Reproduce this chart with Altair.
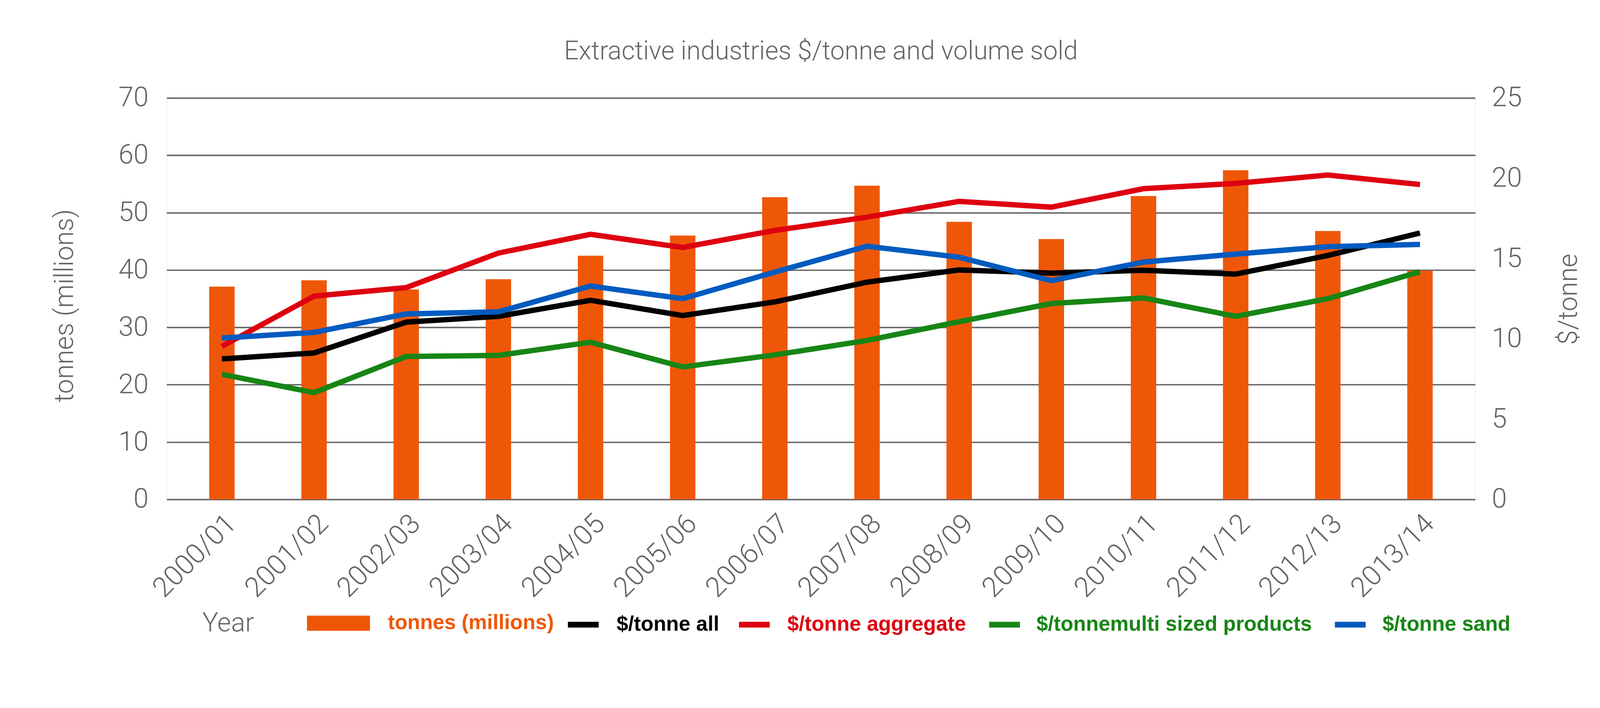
import altair as alt
import pandas as pd

years = ["2000/01", "2001/02", "2002/03", "2003/04", "2004/05", "2005/06", "2006/07",
         "2007/08", "2008/09", "2009/10", "2010/11", "2011/12", "2012/13", "2013/14"]
tonnes = [37.1, 38.2, 36.6, 38.4, 42.5, 46.0, 52.7, 54.7, 48.4, 45.4, 52.9, 57.4, 46.8, 39.9]
per_all = [8.75, 9.12, 11.04, 11.40, 12.40, 11.45, 12.30, 13.53, 14.29, 14.09, 14.27, 14.03, 15.19, 16.59]
per_aggregate = [9.53, 12.66, 13.19, 15.34, 16.51, 15.69, 16.75, 17.58, 18.56, 18.20, 19.35, 19.68, 20.20, 19.61]
per_multi = [7.79, 6.65, 8.90, 8.97, 9.79, 8.25, 9.00, 9.90, 11.07, 12.20, 12.55, 11.40, 12.50, 14.18]
per_sand = [10.05, 10.40, 11.55, 11.68, 13.29, 12.50, 14.16, 15.77, 15.08, 13.62, 14.78, 15.28, 15.74, 15.88]

df = pd.DataFrame({
    "year": years,
    "tonnes": tonnes,
    "all": per_all,
    "aggregate": per_aggregate,
    "multi": per_multi,
    "sand": per_sand,
})

GRAY = "#646568"
LIGHT_FONT = "Roboto"
BOLD_FONT = "Liberation Sans"

x_enc = alt.X(
    "year:N",
    sort=years,
    scale=alt.Scale(domain=years, paddingInner=0.724, paddingOuter=0.461),
    axis=alt.Axis(
        title="Year",
        titleX=99, titleY=347, titleAlign="left", titleBaseline="middle", titleAngle=0,
        titleFont=LIGHT_FONT, titleFontWeight=300, titleFontSize=74, titleColor=GRAY,
        labelAngle=-45, labelFont=LIGHT_FONT, labelFontWeight=300, labelFontSize=78,
        labelColor=GRAY, labelPadding=28, labelLimit=0, labelOverlap=False,
        ticks=False, tickSize=0, domain=False, grid=False,
    ),
)

bar_legend = alt.Legend(
    orient="none", legendX=392, legendY=1380, title=None, direction="horizontal",
    symbolType="M-1,-0.239H1V0.239H-1Z", symbolSize=30976, symbolStrokeWidth=0,
    labelColor="#EF5708", labelFont=BOLD_FONT, labelFontWeight="bold", labelFontSize=58,
    labelOffset=50, labelLimit=0, padding=0,
)

bars = alt.Chart(df).mark_bar(color="#EF5708").transform_calculate(
    s="'tonnes (millions)'"
).encode(
    x=x_enc,
    y=alt.Y(
        "tonnes:Q",
        scale=alt.Scale(domain=[0, 70], nice=False),
        axis=alt.Axis(
            title="tonnes (millions)", values=[0, 10, 20, 30, 40, 50, 60, 70],
            titleX=-284, titleY=580, titleAngle=270, titleBaseline="middle", titleAlign="center",
            titleFont=LIGHT_FONT, titleFontWeight=300, titleFontSize=74, titleColor=GRAY,
            labelFont=LIGHT_FONT, labelFontWeight=300, labelFontSize=76, labelColor=GRAY,
            labelPadding=51, ticks=False, tickSize=0, domain=False,
            grid=True, gridColor=GRAY, gridWidth=4, gridOpacity=1,
        ),
    ),
    color=alt.Color(
        "s:N",
        scale=alt.Scale(domain=["tonnes (millions)"], range=["#EF5708"]),
        legend=bar_legend,
    ),
)

right_axis = alt.Axis(
    orient="right", title="$/tonne", values=[0, 5, 10, 15, 20, 25],
    titleX=262, titleY=562, titleAngle=270, titleBaseline="middle", titleAlign="center",
    titleFont=LIGHT_FONT, titleFontWeight=300, titleFontSize=74, titleColor=GRAY,
    labelFont=LIGHT_FONT, labelFontWeight=300, labelFontSize=76, labelColor=GRAY,
    labelPadding=46, ticks=False, tickSize=0, domain=False, grid=False,
)

series = [
    ("all", "$/tonne all", "#000000", "#000000", 1113, 42),
    ("aggregate", "$/tonne aggregate", "#DE0010", "#DE0010", 1591, 41),
    ("multi", "$/tonnemulti sized products", "#178516", "#178516", 2290, 38),
    ("sand", "$/tonne sand", "#005BBF", "#178516", 3256, 39),
]

line_layers = []
for field, name, col, label_col, lx, loff in series:
    line_layers.append(
        alt.Chart(df).mark_line(strokeWidth=15, strokeCap="butt").transform_calculate(
            s=f"'{name}'"
        ).encode(
            x=x_enc,
            y=alt.Y(f"{field}:Q", scale=alt.Scale(domain=[0, 25], nice=False), axis=right_axis),
            color=alt.Color(
                "s:N",
                scale=alt.Scale(domain=[name], range=[col]),
                legend=alt.Legend(
                    orient="none", legendX=lx, legendY=1421, title=None, direction="horizontal",
                    symbolType="stroke", symbolSize=7396, symbolStrokeWidth=16,
                    labelColor=label_col, labelFont=BOLD_FONT, labelFontWeight="bold",
                    labelFontSize=58, labelOffset=loff, labelLimit=0, padding=0,
                ),
            ),
        )
    )

lines = alt.layer(*line_layers).resolve_scale(color="independent")

chart = alt.layer(bars, lines).resolve_scale(
    y="independent", color="independent"
).properties(
    width=3656,
    height=1122,
    padding={"left": 457, "top": 190, "right": 340, "bottom": 330},
    autosize=alt.AutoSizeParams(type="none"),
    title=alt.TitleParams(
        text="Extractive industries $/tonne and volume sold",
        font=LIGHT_FONT, fontWeight=300, fontSize=72, color=GRAY,
        anchor="middle", frame="group", baseline="middle", offset=20,
    ),
).configure_view(stroke=None).configure(background="white")

chart.save("out.html", embed_options={"renderer": "svg", "actions": False})
